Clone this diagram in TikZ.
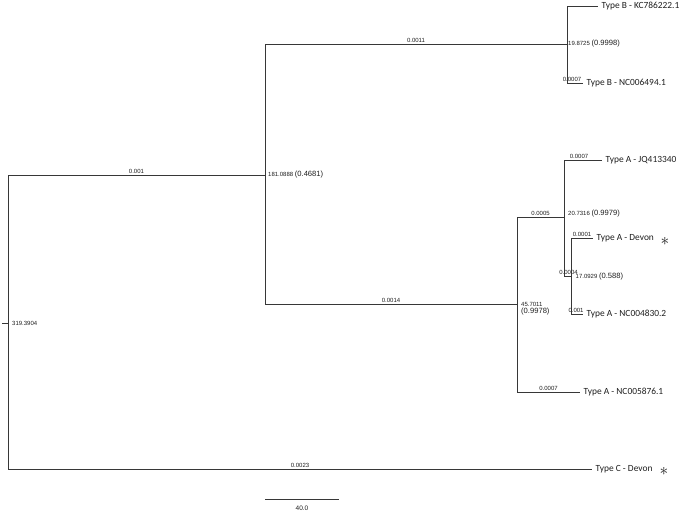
\documentclass[tikz,border=0pt]{standalone}
\usepackage{fontspec}
\setmainfont{Carlito}
\newfontfamily\labfont{Liberation Sans}
\definecolor{brc}{RGB}{55,55,55}
\definecolor{txc}{RGB}{30,30,30}
\begin{document}
\begin{tikzpicture}[x=1pt,y=-1pt,
  br/.style={draw=brc,line width=0.9pt},
  tip/.style={anchor=west,inner sep=0pt,inner xsep=3.5pt,text=txc,font=\fontsize{9.4}{11}\selectfont},
  blab/.style={above,inner sep=1.3pt,text=txc,font=\labfont\fontsize{6}{7}\selectfont},
  nlab/.style={anchor=west,inner sep=0pt,xshift=3pt,text=txc,font=\labfont\fontsize{6}{7}\selectfont},
  star/.style={inner sep=0pt,text=txc,font=\fontsize{16}{16}\selectfont}]
\newcommand{\bignum}[1]{{\fontsize{7.6}{9}\selectfont #1}}
\useasboundingbox (0,0) rectangle (685,514);
% internal nodes
\coordinate (r) at (8,323);
\coordinate (rtick) at (2,323);
\coordinate (n1) at (265,175);
\coordinate (nb) at (567,44);
\coordinate (na) at (517,304);
\coordinate (na2) at (564,217);
\coordinate (na3) at (571,276);
% tips
\node[tip] (kc) at (598,6) {Type B - KC786222.1};
\node[tip] (ncb) at (583,83) {Type B - NC006494.1};
\node[tip] (jq) at (602,160) {Type A - JQ413340};
\node[tip] (dva) at (593,238) {Type A - Devon};
\node[tip] (t4830) at (583,314) {Type A - NC004830.2};
\node[tip] (t5876) at (580,392) {Type A - NC005876.1};
\node[tip] (tc) at (592,469) {Type C - Devon};
\node[star] (s1) at (665,241) {$\ast$};
\node[star] (s2) at (664,471) {$\ast$};
% root
\draw[br] (r |- n1) -- (r |- tc.west);
\draw[br] (rtick) -- (r);
\draw[br] (r |- n1) -- node[blab]{0.001} (n1);
\draw[br] (r |- tc.west) -- node[blab]{0.0023} (tc.west);
\node[nlab,xshift=1pt] (lr) at (r) {319.3904};
% n1
\draw[br] (n1 |- nb) -- (n1 |- na);
\draw[br] (n1 |- nb) -- node[blab]{0.0011} (nb);
\draw[br] (n1 |- na) -- node[blab]{0.0014} (na);
\node[nlab] (ln1) at (n1) {181.0888 \bignum{(0.4681)}};
% nb
\draw[br] (nb |- kc.west) -- (nb |- ncb.west);
\draw[br] (nb |- kc.west) -- (kc.west);
\draw[br] (nb |- ncb.west) -- node[blab,xshift=-3pt]{0.0007} (ncb.west);
\node[nlab,xshift=-2pt] (lnb) at (nb) {19.8725 \bignum{(0.9998)}};
% na
\draw[br] (na |- na2) -- (na |- t5876.west);
\draw[br] (na |- na2) -- node[blab]{0.0005} (na2);
\draw[br] (na |- t5876.west) -- node[blab]{0.0007} (t5876.west);
\node[nlab,align=left,anchor=north west,yshift=1.8pt,xshift=1pt] (lna) at (na) {45.7011\\[-0.5pt]\bignum{(0.9978)}};
% na2
\draw[br] (na2 |- jq.west) -- (na2 |- na3);
\draw[br] (na2 |- jq.west) -- node[blab,xshift=-4pt]{0.0007} (jq.west);
\draw[br] (na2 |- na3) -- node[blab,xshift=1pt,inner sep=1pt]{0.0004} (na3);
\node[nlab,xshift=1.5pt,yshift=-1pt] (lna3) at (na3) {17.0929 \bignum{(0.588)}};
\node[nlab,xshift=1pt,yshift=3pt] (lna2) at (na2) {20.7316 \bignum{(0.9979)}};
% na3
\draw[br] (na3 |- dva.west) -- (na3 |- t4830.west);
\draw[br] (na3 |- dva.west) -- node[blab]{0.0001} (dva.west);
\draw[br] (na3 |- t4830.west) -- node[blab,xshift=-1pt]{0.001} (t4830.west);
% scale bar
\coordinate (sb1) at (265,499);
\coordinate (sb2) at (339,499);
\draw[br] (sb1) -- (sb2);
\node[text=txc,font=\labfont\fontsize{6.5}{7}\selectfont] (sbl) at (302,508.5) {40.0};
\end{tikzpicture}
\end{document}
